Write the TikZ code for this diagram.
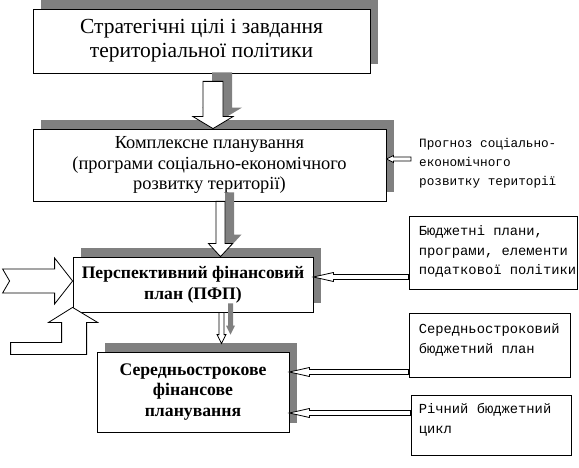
\documentclass[tikz,border=0pt]{standalone}
\usepackage{fontspec}
\setmainfont{Liberation Serif}
\newfontfamily\monofont{Liberation Mono}
\usetikzlibrary{shadows, calc, positioning}

% wide arrow pointing down: start, end, half shaft, half head, head length
\newcommand{\downblock}[5]{%
  \path[blockarrow] let \p1=(#1), \p2=(#2) in
    (\x1-#3,\y1) -- (\x1+#3,\y1) -- (\x1+#3,\y2+#5) -- (\x1+#4,\y2+#5)
    -- (\x1,\y2) -- (\x1-#4,\y2+#5) -- (\x1-#3,\y2+#5) -- cycle;}
% thin arrow pointing left: tail, tip, half shaft, half head, head length
\newcommand{\leftthin}[5]{%
  \path[openarrow] let \p1=(#1), \p2=(#2) in
    (\x1,\y2+#3) -- (\x2+#5,\y2+#3) -- (\x2+#5,\y2+#4) -- (\x2,\y2)
    -- (\x2+#5,\y2-#4) -- (\x2+#5,\y2-#3) -- (\x1,\y2-#3) -- cycle;}

\begin{document}
\begin{tikzpicture}[x=1pt, y=-1pt,
  box/.style={draw, fill=white, line width=0.8pt, inner sep=0pt, align=center,
    general shadow={fill=black!50, shadow xshift=8pt, shadow yshift=9pt}},
  sidebox/.style={draw, fill=white, line width=0.8pt, inner sep=0pt},
  sidetext/.style={inner sep=0pt, align=left,
    font=\monofont\fontsize{13.8}{19.5}\selectfont},
  blockarrow/.style={draw, fill=white, line width=0.8pt,
    general shadow={fill=black!50, shadow xshift=9pt, shadow yshift=9pt}},
  openarrow/.style={draw, fill=white, line width=0.8pt}
]
\useasboundingbox (0,0) rectangle (579,468);

%--------------------------------------------------
% main blocks
%--------------------------------------------------
\node[box, minimum width=337pt, minimum height=64pt,
  font=\fontsize{21.5}{24}\selectfont] (goals) at (201.5,41)
  {Стратегічні цілі і завдання\\територіальної політики};
\node[box, minimum width=353pt, minimum height=72pt,
  font=\fontsize{18.4}{20.5}\selectfont] (compl) at (209.5,165)
  {Комплексне планування\\(програми соціально-економічного\\розвитку території)};
\node[box, minimum width=240pt, minimum height=55pt,
  font=\bfseries\fontsize{17.6}{21}\selectfont] (pfp) at (193,284.5)
  {Перспективний фінансовий\\план (ПФП)};
\node[box, minimum width=192pt, minimum height=80pt,
  font=\bfseries\fontsize{17.7}{20.5}\selectfont] (mtp) at (193,392)
  {Середньострокове\\фінансове\\планування};

%--------------------------------------------------
% side inputs
%--------------------------------------------------
\node[sidetext, font=\monofont\fontsize{12.7}{19}\selectfont,
  anchor=north west] (forecast) at (419,138)
  {Прогноз соціально-\\економічного\\розвитку території};

\node[sidebox, minimum width=168pt, minimum height=73pt] (budget) at (493,252.5) {};
\node[sidebox, minimum width=161pt, minimum height=64pt] (mtbp) at (489.5,345) {};
\node[sidebox, minimum width=160pt, minimum height=60pt] (annual) at (491,425) {};

\node[sidetext, below right=10pt and 10pt of budget.north west] (budgettext)
  {Бюджетні плани,\\програми, елементи\\податкової політики};
\node[sidetext, below right=11pt and 10pt of mtbp.north west] (mtbptext)
  {Середньостроковий\\бюджетний план};
\node[sidetext, below right=9pt and 8pt of annual.north west] (annualtext)
  {Річний бюджетний\\цикл};

%--------------------------------------------------
% arrows
%--------------------------------------------------
\downblock{$(goals.south)+(11.5,8)$}{compl.north}{10pt}{20pt}{12pt}
\downblock{$(compl.south)+(11,0)$}{pfp.north}{4.5pt}{12pt}{13pt}
\downblock{$(pfp.south)+(28.5,0)$}{$(mtp.north)+(0,-8)$}{2.5pt}{4.5pt}{9pt}

\coordinate (complin) at ($(compl.east)+(0,-6)$);
\coordinate (pfpin) at ($(pfp.east)+(0,-7.5)$);
\coordinate (mtpin1) at ($(mtp.east)+(0,-20)$);
\coordinate (mtpin2) at ($(mtp.east)+(0,21)$);

\leftthin{$(forecast.west)+(-8,0)$}{complin}{2pt}{3.5pt}{7pt}
\leftthin{budget.west}{pfpin}{2.5pt}{4.5pt}{20pt}
\leftthin{mtbp.west}{mtpin1}{2.5pt}{4.5pt}{20pt}
\leftthin{annual.west}{mtpin2}{2.5pt}{4.5pt}{20pt}

% inputs from the left
\coordinate (lin) at ($(pfp.west)+(0,-3.5)$);
\draw[openarrow] (lin) -- ++(-18,-23) -- ++(0,11) -- ++(-52,0) -- ++(7,12)
  -- ++(-7,12) -- ++(52,0) -- ++(0,11) -- cycle;
\coordinate (uin) at ($(pfp.south west)+(0,-5)$);
\draw[openarrow] (uin) -- ++(25,15) -- ++(-11,0) -- ++(0,32) -- ++(-76,0)
  -- ++(0,-12) -- ++(51,0) -- ++(0,-20) -- ++(-13,0) -- cycle;

\end{tikzpicture}
\end{document}
